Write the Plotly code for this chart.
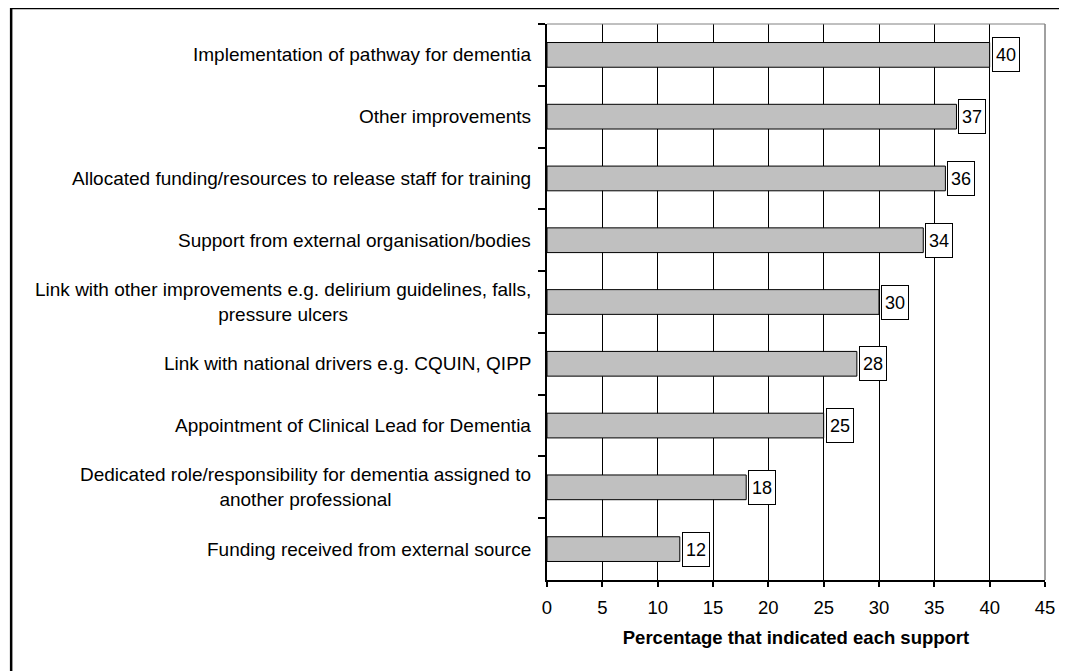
import plotly.graph_objects as go

categories = [
    "Implementation of pathway for dementia",
    "Other improvements",
    "Allocated funding/resources to release staff for training",
    "Support from external organisation/bodies",
    "Link with other improvements e.g. delirium guidelines, falls,<br>pressure ulcers",
    "Link with national drivers e.g. CQUIN, QIPP",
    "Appointment of Clinical Lead for Dementia",
    "Dedicated role/responsibility for dementia assigned to<br>another professional",
    "Funding received from external source",
]
values = [40, 37, 36, 34, 30, 28, 25, 18, 12]
x_ticks = [0, 5, 10, 15, 20, 25, 30, 35, 40, 45]
x_title = "Percentage that indicated each support"

FONT = "Liberation Sans, Arial, sans-serif"
FS = 19

fig = go.Figure()
fig.add_trace(go.Bar(
    x=values, y=categories, orientation="h",
    marker=dict(color="#c0c0c0", line=dict(color="#000000", width=1)),
    width=0.4, hoverinfo="skip",
))

annotations = []
for c, v in zip(categories, values):
    annotations.append(dict(
        x=v, y=c, xref="x", yref="y", text=str(v), showarrow=False,
        xanchor="left", yanchor="middle", xshift=2,
        width=20, height=27, borderpad=3, borderwidth=1,
        bordercolor="#000000", bgcolor="#ffffff",
        font=dict(family=FONT, size=18, color="#000000"),
    ))
    annotations.append(dict(
        x=0, y=c, xref="paper", yref="y", text=c, showarrow=False,
        xanchor="right", yanchor="middle", align="center", xshift=-14,
        font=dict(family=FONT, size=FS, color="#000000"),
    ))

# figure placed with the page's 8px body margin; sized to fit the window
W, H = 1059, 663
L, R, T, B = 539, 20, 16, 91
pw, ph = W - L - R, H - T - B

def px_x(p):
    return (p - L) / pw

def px_y(p):
    return (H - B - p) / ph

shapes = [
    # outer chart frame
    dict(type="rect", xref="paper", yref="paper",
         x0=px_x(1), x1=px_x(1080), y0=px_y(700), y1=px_y(0),
         line=dict(color="#000000", width=2.5), fillcolor="rgba(0,0,0,0)"),
    # plot area top and right border (grey)
    dict(type="line", xref="paper", yref="paper", x0=0, x1=1, y0=1, y1=1,
         line=dict(color="#808080", width=1)),
    dict(type="line", xref="paper", yref="paper", x0=1, x1=1, y0=0, y1=1,
         line=dict(color="#808080", width=1.5)),
]

fig.update_layout(
    width=W, height=H,
    margin=dict(l=L, r=R, t=T, b=B, pad=0),
    paper_bgcolor="#ffffff", plot_bgcolor="#ffffff",
    showlegend=False,
    annotations=annotations,
    shapes=shapes,
    font=dict(family=FONT, size=FS, color="#000000"),
    xaxis=dict(
        range=[0, 45], tickvals=x_ticks, ticktext=[str(t) for t in x_ticks],
        showgrid=True, gridcolor="#000000", gridwidth=1,
        showline=True, linecolor="#000000", linewidth=1.5,
        ticks="outside", ticklen=5, tickcolor="#000000", tickwidth=1.5,
        ticklabelstandoff=5,
        tickfont=dict(family=FONT, size=18.5, color="#000000"),
        zeroline=False,
        title=dict(text="<b>" + x_title + "</b>", standoff=14,
                   font=dict(family=FONT, size=18.5, color="#000000")),
    ),
    yaxis=dict(
        type="category", categoryorder="array", categoryarray=categories,
        autorange="reversed",
        showticklabels=False, showgrid=False,
        showline=True, linecolor="#000000", linewidth=2,
        ticks="outside", ticklen=7, tickcolor="#000000", tickwidth=1.5,
        tickson="boundaries",
        zeroline=False,
    ),
)

fig.write_html("out.html")
